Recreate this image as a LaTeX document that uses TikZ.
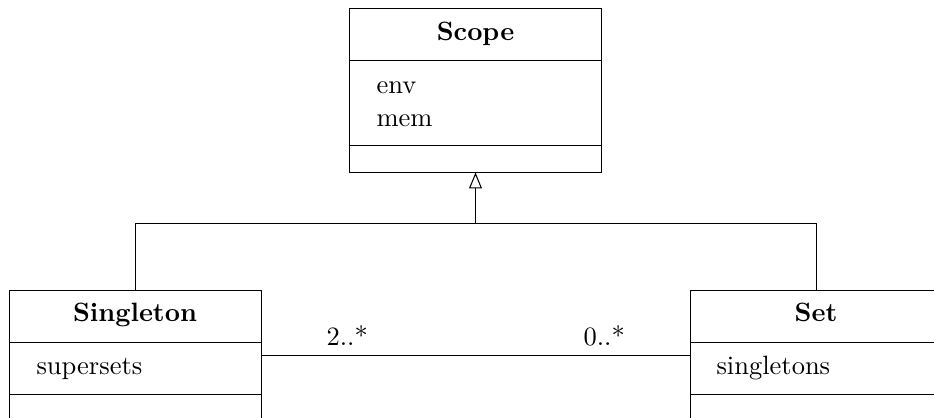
\documentclass[tikz,border=0pt]{standalone}
\usetikzlibrary{arrows.meta}
% one drawing unit = one pixel of the sheet
\def\u{0.3774pt}
\tikzset{
  classbox/.style={draw, rectangle, inner sep=0pt, outer sep=0pt,
    minimum width=252*\u},
  classname/.style={font=\bfseries, inner sep=0pt, anchor=base},
  member/.style={inner sep=0pt, anchor=base west},
  mult/.style={inner sep=0pt, anchor=base west},
  link/.style={draw, line width=0.4pt},
  inherit/.style={link, -{Triangle[open, length=16*\u, width=13*\u]}}
}
\begin{document}
\begin{tikzpicture}[x=\u, y=-\u, line width=0.4pt]
  \useasboundingbox (0,0) rectangle (934,418);
  \clip (0,0) rectangle (934,418);

  % Scope class
  \node[classbox, minimum height=164*\u] (scope) at (475.5,90.5) {};
  \draw (scope.north west) ++(0,52) -- ++(252,0);
  \draw (scope.north west) ++(0,137) -- ++(252,0);
  \node[classname] (scopename) at (475.5,41) {Scope};
  \node[member] (env) at (376,94) {env};
  \node[member] (mem) at (376,127) {mem};

  % Singleton class (runs past the lower edge)
  \node[classbox, minimum height=160*\u, anchor=north] (singleton) at (135.5,290.5) {};
  \draw (singleton.north west) ++(0,52) -- ++(252,0);
  \draw (singleton.north west) ++(0,104) -- ++(252,0);
  \node[classname] (singletonname) at (135,322) {Singleton};
  \node[member] (supersets) at (36,375) {supersets};

  % Set class (runs past the lower and right edges)
  \node[classbox, minimum height=160*\u, anchor=north] (set) at (816.5,290.5) {};
  \draw (set.north west) ++(0,52) -- ++(252,0);
  \draw (set.north west) ++(0,104) -- ++(252,0);
  \node[classname] (setname) at (816,322) {Set};
  \node[member] (singletons) at (716,375) {singletons};

  % generalisation
  \coordinate (fork) at (475.5,223.5);
  \draw[link] (singleton.north) |- (fork) -| (set.north);
  \draw[inherit] (fork) -- (scope.south);

  % association
  \draw[link] (singleton.west |- 0,355.5) ++(252,0) coordinate (a1) -- (set.west |- a1);
  \node[mult] (m1) at (326,345) {2..*};
  \node[mult] (m2) at (583,345) {0..*};
\end{tikzpicture}
\end{document}
